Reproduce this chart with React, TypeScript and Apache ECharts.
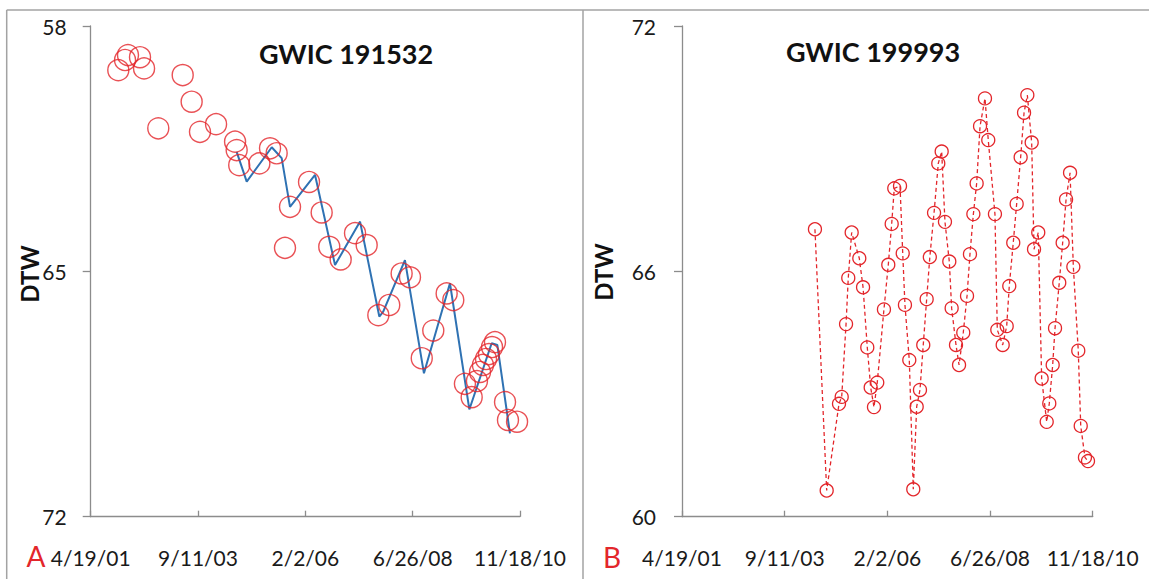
import React, { useEffect, useRef } from "react";
import * as echarts from "echarts";

// ---------- data ----------
const X_TICK_LABELS = ["4/19/01", "9/11/03", "2/2/06", "6/26/08", "11/18/10"];
const X_TICK_STEP_DAYS = 875;
const LEFT_Y_TICKS = [58, 65, 72];
const RIGHT_Y_TICKS = [60, 66, 72];

const TITLE_A = "GWIC 191532";
const TITLE_B = "GWIC 199993";

// Panel A: manual measurements (circles)
const A_DATES = [
  "2001-11-30", "2002-01-24", "2002-02-17", "2002-05-26", "2002-06-28", "2002-10-22",
  "2003-05-09", "2003-07-21", "2003-09-27", "2004-02-05", "2004-07-09", "2004-07-22",
  "2004-08-12", "2005-01-23", "2005-04-20", "2005-06-13", "2005-08-20", "2005-09-30",
  "2006-03-04", "2006-06-15", "2006-08-16", "2006-11-17", "2007-03-14", "2007-06-17",
  "2007-09-20", "2007-12-18", "2008-03-28", "2008-06-04", "2008-09-08", "2008-12-11",
  "2009-03-30", "2009-05-23", "2009-08-26", "2009-10-20", "2009-12-02", "2009-12-27",
  "2010-01-20", "2010-02-14", "2010-03-10", "2010-04-04", "2010-04-28", "2010-07-19",
  "2010-08-12", "2010-10-25",
];
const A_DTW = [
  59.26, 58.97, 58.83, 58.89, 59.21, 60.92,
  59.4, 60.16, 61.02, 60.8, 61.3, 61.54,
  61.97, 61.92, 61.49, 61.63, 64.33, 63.16,
  62.45, 63.32, 64.3, 64.66, 63.91, 64.25,
  66.25, 65.96, 65.06, 65.17, 67.48, 66.69,
  65.63, 65.82, 68.21, 68.59, 68.13, 67.87,
  67.67, 67.5, 67.36, 67.16, 67.02, 68.73,
  69.24, 69.29,
];

// Panel A: continuous record (blue line)
const A_LOGGER_DATES = [
  "2004-07-22", "2004-10-12", "2005-05-04", "2005-07-24", "2005-09-30", "2006-04-22",
  "2006-10-02", "2007-04-24", "2007-09-28", "2007-10-30", "2008-04-24", "2008-09-26",
  "2009-04-26", "2009-10-01", "2010-04-01", "2010-05-17", "2010-08-28",
];
const A_LOGGER_DTW = [
  61.59, 62.44, 61.46, 61.77, 63.16, 62.25,
  64.82, 63.58, 66.29, 66.15, 64.68, 67.91,
  65.34, 68.94, 67.05, 67.1, 69.62,
];

// Panel B
const B_DATES = [
  "2004-05-26", "2004-09-03", "2004-12-17", "2005-01-09", "2005-02-15", "2005-03-06",
  "2005-04-04", "2005-06-08", "2005-07-10", "2005-08-15", "2005-09-13", "2005-10-11",
  "2005-11-08", "2006-01-04", "2006-02-10", "2006-03-11", "2006-04-02", "2006-05-21",
  "2006-06-13", "2006-07-02", "2006-08-08", "2006-09-11", "2006-10-10", "2006-11-07",
  "2006-12-05", "2007-01-03", "2007-01-30", "2007-03-07", "2007-04-12", "2007-05-11",
  "2007-06-08", "2007-07-15", "2007-08-04", "2007-09-10", "2007-10-06", "2007-11-11",
  "2007-12-13", "2008-01-07", "2008-02-05", "2008-03-04", "2008-04-02", "2008-05-14",
  "2008-06-11", "2008-08-07", "2008-08-27", "2008-10-12", "2008-11-15", "2008-12-07",
  "2009-01-10", "2009-02-08", "2009-03-14", "2009-04-12", "2009-05-10", "2009-06-16",
  "2009-07-06", "2009-08-11", "2009-09-09", "2009-10-22", "2009-11-13", "2009-12-12",
  "2010-01-01", "2010-02-06", "2010-03-07", "2010-04-05", "2010-05-09", "2010-06-06",
  "2010-07-18", "2010-08-08", "2010-09-13", "2010-10-09",
];
const B_DTW = [
  67.03, 60.64, 62.76, 62.93, 64.71, 65.84,
  66.95, 66.32, 65.61, 64.14, 63.16, 62.68,
  63.28, 65.07, 66.16, 67.16, 68.03, 68.09,
  66.44, 65.18, 63.83, 60.67, 62.69, 63.1,
  64.2, 65.32, 66.35, 67.43, 68.64, 68.93,
  67.21, 66.24, 65.1, 64.2, 63.71, 64.5,
  65.4, 66.42, 67.4, 68.15, 69.55, 70.23,
  69.21, 67.4, 64.57, 64.2, 64.66, 65.64,
  66.7, 67.65, 68.79, 69.88, 70.31, 69.15,
  66.54, 66.95, 63.38, 62.32, 62.77, 63.71,
  64.61, 65.72, 66.7, 67.76, 68.41, 66.11,
  64.06, 62.22, 61.45, 61.36,
];

// ---------- helpers ----------
const START = Date.UTC(2001, 3, 19);
const toDay = (s: string) => (Date.parse(s) - START) / 86400000;
const X_MAX = X_TICK_STEP_DAYS * (X_TICK_LABELS.length - 1);
const A_BASE = LEFT_Y_TICKS[0];
const A_STEP = LEFT_Y_TICKS[1] - LEFT_Y_TICKS[0];
const A_SPAN = LEFT_Y_TICKS[LEFT_Y_TICKS.length - 1] - A_BASE;

const RED = "#e3262b";
const AXIS = "#8c8c8c";
const FRAME = "#a3a3a3";
const TICK_FONT = "Lato";

const xLabel = (v: number) => {
  const i = Math.round(v / X_TICK_STEP_DAYS);
  return X_TICK_LABELS[i] ?? "";
};

function makeXAxis(gridIndex: number) {
  return {
    type: "value",
    gridIndex,
    min: 0,
    max: X_MAX,
    interval: X_TICK_STEP_DAYS,
    splitLine: { show: false },
    axisLine: { show: true, onZero: false, lineStyle: { color: AXIS, width: 1.3 } },
    axisTick: { show: true, inside: true, length: 6, lineStyle: { color: AXIS, width: 1.3 } },
    axisLabel: {
      show: true,
      showMinLabel: true,
      showMaxLabel: true,
      margin: 30,
      fontFamily: TICK_FONT,
      fontSize: 21,
      color: "#1a1a1a",
      formatter: xLabel,
    },
  };
}

export default function App() {
  const ref = useRef<HTMLDivElement>(null);

  useEffect(() => {
    document.body.style.margin = "0";
    if (!ref.current) return;
    const chart = echarts.init(ref.current, undefined, { renderer: "svg" });

    const aCircles = A_DATES.map((d, i) => [toDay(d), A_DTW[i] - A_BASE]);
    const aLogger = A_LOGGER_DATES.map((d, i) => [toDay(d), A_LOGGER_DTW[i] - A_BASE]);
    const bPoints = B_DATES.map((d, i) => [toDay(d), B_DTW[i]]);

    const textStyle = (font: string, fill: string) => ({
      font,
      fill,
      align: "center",
      verticalAlign: "middle",
      textAlign: "center",
      textVerticalAlign: "middle",
    });

    chart.setOption({
      animation: false,
      backgroundColor: "#ffffff",
      grid: [
        { left: 90.7, top: 26, width: 429.3, height: 490.7, containLabel: false },
        { left: 682, top: 26, width: 410.7, height: 490.7, containLabel: false },
      ],
      xAxis: [makeXAxis(0), makeXAxis(1)],
      yAxis: [
        {
          type: "value",
          gridIndex: 0,
          inverse: true,
          min: 0,
          max: A_SPAN,
          interval: A_STEP,
          splitLine: { show: false },
          axisLine: { show: true, lineStyle: { color: AXIS, width: 1.3 } },
          axisTick: { show: true, inside: false, length: 8, lineStyle: { color: AXIS, width: 1.3 } },
          axisLabel: {
            margin: 24,
            fontFamily: TICK_FONT,
            fontSize: 21,
            color: "#1a1a1a",
            formatter: (v: number) => String(v + A_BASE),
          },
        },
        {
          type: "value",
          gridIndex: 1,
          min: RIGHT_Y_TICKS[0],
          max: RIGHT_Y_TICKS[RIGHT_Y_TICKS.length - 1],
          interval: RIGHT_Y_TICKS[1] - RIGHT_Y_TICKS[0],
          splitLine: { show: false },
          axisLine: { show: true, lineStyle: { color: AXIS, width: 1.3 } },
          axisTick: { show: true, inside: false, length: 8, lineStyle: { color: AXIS, width: 1.3 } },
          axisLabel: {
            margin: 26,
            fontFamily: TICK_FONT,
            fontSize: 21,
            color: "#1a1a1a",
          },
        },
      ],
      series: [
        {
          type: "line",
          xAxisIndex: 0,
          yAxisIndex: 0,
          data: aLogger,
          showSymbol: false,
          symbol: "none",
          lineStyle: { color: "#2f72b3", width: 2 },
          z: 2,
        },
        {
          type: "scatter",
          xAxisIndex: 0,
          yAxisIndex: 0,
          data: aCircles,
          symbol: "circle",
          symbolSize: 21,
          itemStyle: { color: "rgba(0,0,0,0)", borderColor: RED, borderWidth: 1.4 },
          z: 3,
        },
        {
          type: "line",
          xAxisIndex: 1,
          yAxisIndex: 1,
          data: bPoints,
          symbol: "circle",
          symbolSize: 13,
          showSymbol: true,
          itemStyle: { color: "rgba(0,0,0,0)", borderColor: RED, borderWidth: 1.3 },
          lineStyle: { color: RED, width: 1.3, type: [4, 3] },
          z: 3,
        },
      ],
      graphic: [
        { type: "line", shape: { x1: 6.7, y1: 10, x2: 1149, y2: 10 }, style: { stroke: FRAME, lineWidth: 1.5 } },
        { type: "line", shape: { x1: 6.7, y1: 10, x2: 6.7, y2: 579 }, style: { stroke: FRAME, lineWidth: 1.5 } },
        { type: "line", shape: { x1: 583, y1: 10, x2: 583, y2: 579 }, style: { stroke: FRAME, lineWidth: 1.5 } },
        { type: "text", x: 346, y: 53, style: { text: TITLE_A, ...textStyle("bold 27px Lato", "#111111") } },
        { type: "text", x: 873, y: 51, style: { text: TITLE_B, ...textStyle("bold 27px Lato", "#111111") } },
        { type: "text", x: 29.6, y: 274, rotation: Math.PI / 2, style: { text: "DTW", ...textStyle("bold 24px Lato", "#111111") } },
        { type: "text", x: 603, y: 272, rotation: Math.PI / 2, style: { text: "DTW", ...textStyle("bold 24px Lato", "#111111") } },
        { type: "text", x: 36, y: 556, style: { text: "A", ...textStyle("28px Lato", RED) } },
        { type: "text", x: 612, y: 557, style: { text: "B", ...textStyle("28px Lato", RED) } },
      ],
    });

    return () => chart.dispose();
  }, []);

  return <div ref={ref} style={{ width: 1149, height: 579 }} />;
}
